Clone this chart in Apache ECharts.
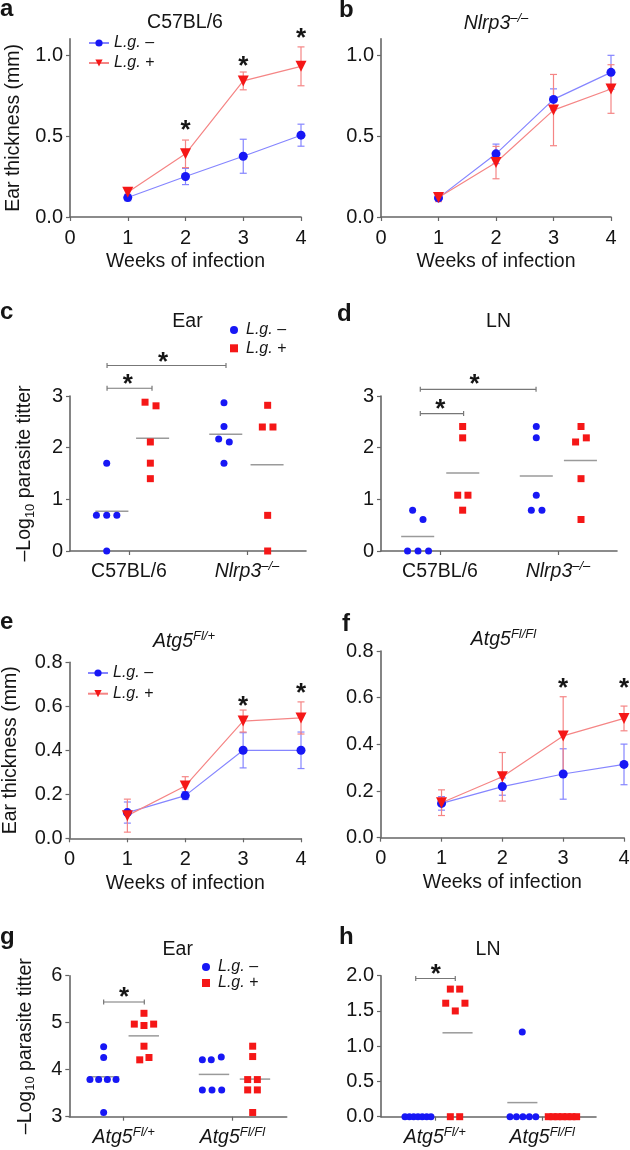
<!DOCTYPE html>
<html><head><meta charset="utf-8">
<script src="https://cdn.jsdelivr.net/npm/echarts@6/dist/echarts.min.js"></script>
<style>html,body{margin:0;padding:0;background:#fff}#c{width:630px;height:1150px}</style>
</head><body><div id="c"></div>
<script>
// ---------- data ----------
const weeks = [1, 2, 3, 4];
const weekTicks = [0, 1, 2, 3, 4];
// panel a (C57BL/6)
const aNeg = [0.12, 0.25, 0.375, 0.505];
const aNegErr = [0.02, 0.05, 0.105, 0.068];
const aPos = [0.153, 0.39, 0.84, 0.93];
const aPosErr = [0.02, 0.085, 0.055, 0.12];
const aStars = [[2, 0.56], [3, 0.957], [4, 1.13]];
const abTicks = [0, 0.5, 1.0];
// panel b (Nlrp3-/-)
const bNeg = [0.118, 0.39, 0.726, 0.893];
const bNegErr = [0.02, 0.06, 0.065, 0.105];
const bPos = [0.12, 0.336, 0.66, 0.79];
const bPosErr = [0.025, 0.1, 0.22, 0.15];
const bStars = [];
// panel e (Atg5 Fl/+)
const eNeg = [0.117, 0.194, 0.40, 0.40];
const eNegErr = [0.048, 0.018, 0.08, 0.083];
const ePos = [0.103, 0.238, 0.533, 0.547];
const ePosErr = [0.075, 0.042, 0.05, 0.073];
const eStars = [[3, 0.62], [4, 0.68]];
// panel f (Atg5 Fl/Fl)
const fNeg = [0.147, 0.219, 0.273, 0.314];
const fNegErr = [0.029, 0.037, 0.108, 0.087];
const fPos = [0.15, 0.261, 0.436, 0.511];
const fPosErr = [0.055, 0.104, 0.168, 0.053];
const fStars = [[3, 0.66], [4, 0.66]];
const efTicks = [0, 0.2, 0.4, 0.6, 0.8];

// dot panels: categories and points [position, value]
const cdCategories = ['C57BL/6', 'Nlrp3'];
const cdSup = ['', '\u2013/\u2013'];
const ghCategories = ['Atg5', 'Atg5'];
const ghSup = ['Fl/+', 'Fl/Fl'];
// panel c (Ear)
const cNeg = [[0.311,1.70],[0.224,0.69],[0.311,0.69],[0.397,0.69],[0.311,0],
              [1.305,2.87],[1.305,2.41],[1.26,2.17],[1.35,2.11],[1.305,1.70]];
const cPos = [[0.636,2.88],[0.729,2.81],[0.681,2.11],[0.681,1.70],[0.681,1.40],
              [1.675,2.82],[1.63,2.40],[1.72,2.40],[1.675,0.69],[1.675,0]];
const cMeans = [[0.355,0.77],[0.70,2.18],[1.32,2.26],[1.67,1.67]];
const cBrackets = [[0.314,1.322,3.59],[0.314,0.695,3.15]];
const cStars = [[0.788,3.74],[0.49,3.32]];
// panel d (LN)
const dNeg = [[0.268,0.79],[0.356,0.61],[0.225,0],[0.314,0],[0.403,0],
              [1.316,2.41],[1.316,2.19],[1.316,1.08],[1.274,0.79],[1.364,0.79]];
const dPos = [[0.692,2.41],[0.692,2.19],[0.65,1.08],[0.737,1.08],[0.692,0.79],
              [1.695,2.41],[1.649,2.11],[1.74,2.19],[1.695,1.40],[1.695,0.61]];
const dMeans = [[0.311,0.28],[0.693,1.51],[1.316,1.45],[1.69,1.75]];
const dBrackets = [[0.333,1.314,3.13],[0.333,0.70,2.66]];
const dStars = [[0.793,3.31],[0.503,2.83]];
// panel g (Ear)
const gNeg = [[0.316,4.49],[0.316,4.26],[0.19,3.79],[0.27,3.79],[0.35,3.79],[0.43,3.79],[0.316,3.09],
              [1.224,4.21],[1.306,4.21],[1.398,4.27],[1.224,3.57],[1.313,3.57],[1.402,3.57]];
const gPos = [[0.687,5.20],[0.598,4.97],[0.687,4.94],[0.776,4.97],[0.687,4.50],[0.648,4.21],[0.733,4.26],
              [1.687,4.50],[1.687,4.28],[1.641,3.79],[1.73,3.79],[1.641,3.57],[1.73,3.57],[1.687,3.09]];
const gMeans = [[0.319,3.85],[0.685,4.72],[1.331,3.90],[1.708,3.80]];
const gBrackets = [[0.316,0.69,5.44]];
const gStars = [[0.503,5.64]];
// panel h (LN)
const hNeg = [[0.223,0],[0.264,0],[0.304,0],[0.344,0],[0.384,0],[0.425,0],[0.465,0],
              [1.314,1.2],[1.2,0],[1.26,0],[1.32,0],[1.38,0],[1.44,0]];
const hPos = [[0.645,1.81],[0.732,1.81],[0.602,1.61],[0.781,1.61],[0.691,1.50],[0.645,0],[0.732,0],
              [1.556,0],[1.60,0],[1.644,0],[1.688,0],[1.732,0],[1.776,0],[1.82,0]];
const hMeans = [[0.344,0],[0.712,1.19],[1.315,0.2],[1.69,0]];
const hBrackets = [[0.323,0.691,1.96]];
const hStars = [[0.509,2.08]];

// ---------- styles ----------
const FONT = '"Liberation Sans", Arial, Helvetica, sans-serif';
const AX = '#666666', TXT = '#151515';
const BLUE = '#1717f5', RED = '#f51717', BLUE_L = '#8585ff', RED_L = '#f58585';
const TICK_FS = 20, NAME_FS = 19.5;

const grids = [
  {left: 70, top: 38.8, width: 231, height: 178.2},    // a
  {left: 381, top: 38.8, width: 230, height: 178.2},   // b
  {left: 70, top: 396, width: 236, height: 155},       // c
  {left: 381, top: 396, width: 236, height: 155},      // d
  {left: 69.5, top: 662.3, width: 231.5, height: 176}, // e
  {left: 380.7, top: 651, width: 243.3, height: 186.7},// f
  {left: 69.3, top: 975.7, width: 217.4, height: 141}, // g
  {left: 381, top: 975.7, width: 215, height: 141}     // h
].map(g => Object.assign({outerBoundsMode: 'none', containLabel: false}, g));

const axisLineStyle = {show: true, lineStyle: {color: AX, width: 1.6}};
const tickStyle = {show: true, length: 4, lineStyle: {color: AX, width: 1.2}};
const labelBase = {fontSize: TICK_FS, color: TXT, fontFamily: FONT};

function weekAxis(gi) {
  return {gridIndex: gi, type: 'value', min: 0, max: 4, interval: 1,
    name: 'Weeks of infection', nameLocation: 'middle', nameGap: 35,
    nameTextStyle: {fontSize: NAME_FS, color: TXT, fontFamily: FONT},
    axisLine: axisLineStyle, splitLine: {show: false},
    axisTick: Object.assign({customValues: weekTicks}, tickStyle),
    axisLabel: Object.assign({margin: 11, customValues: weekTicks, formatter: v => String(v)}, labelBase)};
}
function hiddenAxis(gi) {
  return {gridIndex: gi, type: 'value', min: 0, max: 2, interval: 1, show: false};
}
function catAxis(gi, cats, sups) {
  return {gridIndex: gi, type: 'category', data: cats, position: 'bottom', boundaryGap: true,
    axisLine: axisLineStyle, axisTick: Object.assign({alignWithLabel: true}, tickStyle), splitLine: {show: false},
    axisLabel: Object.assign({margin: 9, lineHeight: 24, interval: 0,
      formatter: (v, i) => sups[i] ? '{it|' + v + '}{sup|' + sups[i] + '}' : v,
      rich: {it: {fontStyle: 'italic', fontSize: 19.5, fontFamily: FONT, color: TXT, lineHeight: 24},
             sup: {fontStyle: 'italic', fontSize: 13, fontFamily: FONT, color: TXT, lineHeight: 13, verticalAlign: 'top'}}
    }, labelBase, {fontSize: 19.5})};
}
function yAx(gi, min, max, interval, ticks, digits, name, gap) {
  const o = {gridIndex: gi, type: 'value', min: min, max: max, interval: interval,
    axisLine: axisLineStyle, splitLine: {show: false},
    axisTick: Object.assign(ticks ? {customValues: ticks} : {}, tickStyle),
    axisLabel: Object.assign({margin: 7,
      formatter: v => (ticks && !ticks.some(t => Math.abs(t - v) < 1e-9)) ? '' : v.toFixed(digits)},
      ticks ? {customValues: ticks} : {}, labelBase)};
  if (name) {
    o.name = name; o.nameLocation = 'middle'; o.nameGap = gap;
    o.nameTextStyle = {fontSize: NAME_FS, color: TXT, fontFamily: FONT, lineHeight: 24,
      rich: {sub: {fontSize: 13, fontFamily: FONT, color: TXT, lineHeight: 13, verticalAlign: 'bottom'}}};
  }
  return o;
}
const titerName = '\u2013Log{sub|10} parasite titter';

const xAxis = [
  weekAxis(0), weekAxis(1),
  hiddenAxis(2), catAxis(2, cdCategories, cdSup),
  hiddenAxis(3), catAxis(3, cdCategories, cdSup),
  weekAxis(4), weekAxis(5),
  hiddenAxis(6), catAxis(6, ghCategories, ghSup),
  hiddenAxis(7), catAxis(7, ghCategories, ghSup)
];
const yAxis = [
  yAx(0, 0, 1.1, 0.5, abTicks, 1, 'Ear thickness (mm)', 44),
  yAx(1, 0, 1.1, 0.5, abTicks, 1),
  yAx(2, 0, 3, 1, null, 0, titerName, 33),
  yAx(3, 0, 3, 1, null, 0),
  yAx(4, 0, 0.8, 0.2, efTicks, 1, 'Ear thickness (mm)', 47),
  yAx(5, 0, 0.8, 0.2, efTicks, 1),
  yAx(6, 3, 6, 1, null, 0, titerName, 32),
  yAx(7, 0, 2, 0.5, null, 1)
];

// ---------- series builders ----------
function errSeries(xi, yi, vals, errs, color) {
  return {type: 'custom', xAxisIndex: xi, yAxisIndex: yi, z: 2, silent: true, clip: false,
    data: weeks.map((w, i) => [w, vals[i] - errs[i], vals[i] + errs[i]]),
    renderItem: (p, api) => {
      const t = api.coord([api.value(0), api.value(2)]);
      const b = api.coord([api.value(0), api.value(1)]);
      const s = {stroke: color, lineWidth: 1.2};
      const w = 3.5;
      return {type: 'group', children: [
        {type: 'line', shape: {x1: t[0], y1: t[1], x2: b[0], y2: b[1]}, style: s},
        {type: 'line', shape: {x1: t[0] - w, y1: t[1], x2: t[0] + w, y2: t[1]}, style: s},
        {type: 'line', shape: {x1: b[0] - w, y1: b[1], x2: b[0] + w, y2: b[1]}, style: s}]};
    }};
}
function lineSeries(xi, yi, name, vals, isPos) {
  return {type: 'line', name: name, xAxisIndex: xi, yAxisIndex: yi, z: 3, clip: false,
    data: weeks.map((w, i) => [w, vals[i]]),
    symbol: isPos ? 'triangle' : 'circle', symbolRotate: isPos ? 180 : 0, symbolSize: isPos ? 11 : 9,
    itemStyle: {color: isPos ? RED : BLUE},
    lineStyle: {color: isPos ? RED_L : BLUE_L, width: 1.2}};
}
function starSeries(xi, yi, stars) {
  return {type: 'custom', xAxisIndex: xi, yAxisIndex: yi, z: 4, silent: true, clip: false, data: stars,
    renderItem: (p, api) => {
      const c = api.coord([api.value(0), api.value(1)]);
      return {type: 'text', x: c[0], y: c[1] + 5,
        style: {text: '*', fontSize: 26, fontWeight: 'bold', fontFamily: FONT, fill: TXT,
                align: 'center', verticalAlign: 'middle'}};
    }};
}
function dotSeries(xi, yi, name, pts, isPos) {
  return {type: 'scatter', name: name, xAxisIndex: xi, yAxisIndex: yi, z: 3, clip: false, data: pts,
    symbol: isPos ? 'rect' : 'circle', symbolSize: 7, itemStyle: {color: isPos ? RED : BLUE, opacity: 1}};
}
function meanSeries(xi, yi, means) {
  return {type: 'custom', xAxisIndex: xi, yAxisIndex: yi, z: 2, silent: true, clip: false, data: means,
    renderItem: (p, api) => {
      const l = api.coord([api.value(0) - 0.14, api.value(1)]);
      const r = api.coord([api.value(0) + 0.14, api.value(1)]);
      return {type: 'line', shape: {x1: l[0], y1: l[1], x2: r[0], y2: r[1]}, style: {stroke: '#9a9a9a', lineWidth: 1.5}};
    }};
}
function bracketSeries(xi, yi, br) {
  return {type: 'custom', xAxisIndex: xi, yAxisIndex: yi, z: 2, silent: true, clip: false, data: br,
    renderItem: (p, api) => {
      const l = api.coord([api.value(0), api.value(2)]);
      const r = api.coord([api.value(1), api.value(2)]);
      const s = {stroke: '#777', lineWidth: 1.2};
      return {type: 'group', children: [
        {type: 'line', shape: {x1: l[0], y1: l[1], x2: r[0], y2: r[1]}, style: s},
        {type: 'line', shape: {x1: l[0], y1: l[1] - 2.5, x2: l[0], y2: l[1] + 2.5}, style: s},
        {type: 'line', shape: {x1: r[0], y1: r[1] - 2.5, x2: r[0], y2: r[1] + 2.5}, style: s}]};
    }};
}
function linePanel(xi, yi, neg, negErr, pos, posErr, stars) {
  return [errSeries(xi, yi, neg, negErr, BLUE_L), errSeries(xi, yi, pos, posErr, RED_L),
          lineSeries(xi, yi, 'lineNeg', neg, false), lineSeries(xi, yi, 'linePos', pos, true),
          starSeries(xi, yi, stars)];
}
function dotPanel(xi, yi, neg, pos, means, br, stars) {
  return [meanSeries(xi, yi, means), bracketSeries(xi, yi, br),
          dotSeries(xi, yi, 'dotNeg', neg, false), dotSeries(xi, yi, 'dotPos', pos, true),
          starSeries(xi, yi, stars)];
}

const series = [].concat(
  linePanel(0, 0, aNeg, aNegErr, aPos, aPosErr, aStars),
  linePanel(1, 1, bNeg, bNegErr, bPos, bPosErr, bStars),
  dotPanel(2, 2, cNeg, cPos, cMeans, cBrackets, cStars),
  dotPanel(4, 3, dNeg, dPos, dMeans, dBrackets, dStars),
  linePanel(6, 4, eNeg, eNegErr, ePos, ePosErr, eStars),
  linePanel(7, 5, fNeg, fNegErr, fPos, fPosErr, fStars),
  dotPanel(8, 6, gNeg, gPos, gMeans, gBrackets, gStars),
  dotPanel(10, 7, hNeg, hPos, hMeans, hBrackets, hStars)
);

// ---------- legends ----------
const LEG_FS = 16;
const legendRich = {i: {fontStyle: 'italic', fontSize: LEG_FS, fontFamily: FONT, color: TXT, lineHeight: 16}};
function legend(names, left, top, iw, ih, gap, padLeft) {
  return {data: names, orient: 'vertical', left: left, top: top, itemWidth: iw, itemHeight: ih, itemGap: gap,
    padding: 0, selectedMode: false,
    formatter: n => /Neg$/.test(n) ? '{i|L.g.} \u2013' : '{i|L.g.} +',
    textStyle: {fontSize: LEG_FS, fontFamily: FONT, color: TXT, lineHeight: 16, padding: [0, 0, 0, padLeft], rich: legendRich}};
}
const legends = [
  legend(['lineNeg', 'linePos'], 88, 35, 20, 9, 4, 0),
  legend(['lineNeg', 'linePos'], 87, 665, 20, 9, 4.7, 0),
  legend(['dotNeg', 'dotPos'], 230, 322, 8, 8, 2.3, 3),
  legend(['dotNeg', 'dotPos'], 202, 959, 8, 8, 0, 3)
];

// ---------- panel letters and titles ----------
function txt(x, y, text, opts) {
  return {type: 'text', x: x, y: y, silent: true,
    style: Object.assign({text: text, fontFamily: FONT, fill: TXT, fontSize: 19.5, align: 'center', verticalAlign: 'middle'}, opts || {})};
}
const letter = (x, y, t) => txt(x, y, t, {fontSize: 24, fontWeight: 'bold', align: 'left'});
const supRich = {it: {fontStyle: 'italic', fontSize: 19.5, fontFamily: FONT, fill: TXT, lineHeight: 24},
                 sup: {fontStyle: 'italic', fontSize: 13, fontFamily: FONT, fill: TXT, lineHeight: 13, verticalAlign: 'top'}};
const graphics = [
  letter(0, 9, 'a'), letter(339, 10, 'b'), letter(0, 312, 'c'), letter(337, 314, 'd'),
  letter(0, 622, 'e'), letter(342, 624, 'f'), letter(0, 937, 'g'), letter(339, 937, 'h'),
  txt(185, 23, 'C57BL/6'),
  txt(496, 24, '{it|Nlrp3}{sup|\u2013/\u2013}', {rich: supRich}),
  txt(187.5, 321.5, 'Ear'),
  txt(498.5, 321.5, 'LN'),
  txt(184, 642, '{it|Atg5}{sup|Fl/+}', {rich: supRich}),
  txt(503.5, 640, '{it|Atg5}{sup|Fl/Fl}', {rich: supRich}),
  txt(177.7, 950, 'Ear'),
  txt(488, 950, 'LN')
];

const chart = echarts.init(document.getElementById('c'), null, {renderer: 'canvas'});
chart.setOption({
  animation: false,
  backgroundColor: '#fff',
  textStyle: {fontFamily: FONT},
  grid: grids, xAxis: xAxis, yAxis: yAxis, series: series, legend: legends,
  graphic: graphics
});
</script></body></html>
